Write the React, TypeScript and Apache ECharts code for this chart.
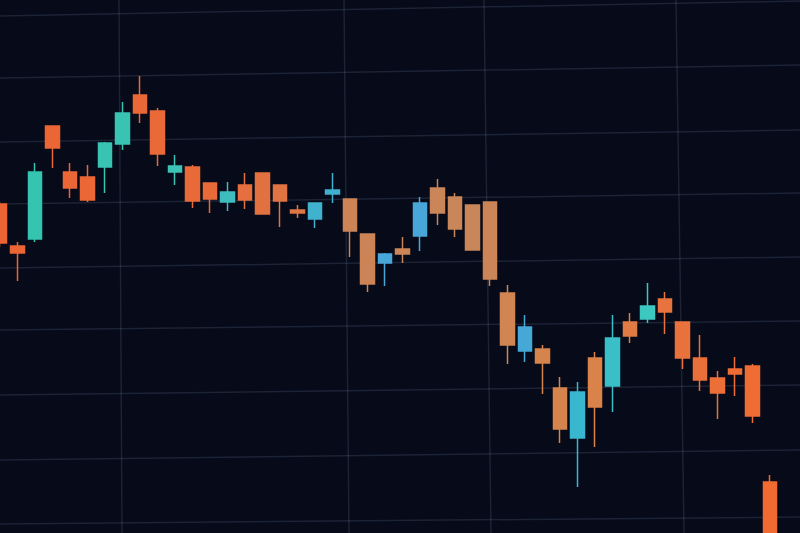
import React, { useEffect, useRef } from "react";
import * as echarts from "echarts";

// Candle labels (sessions)
const categories = [
  "S01","S02","S03","S04","S05","S06","S07","S08","S09","S10",
  "S11","S12","S13","S14","S15","S16","S17","S18","S19","S20",
  "S21","S22","S23","S24","S25","S26","S27","S28","S29","S30",
  "S31","S32","S33","S34","S35","S36","S37","S38","S39","S40",
  "S41","S42","S43","S44","S45",
];

// OHLC values (arbitrary price units)
const opens = [
  329, 287, 294, 407, 361, 356, 366, 389, 438, 422,
  361, 366, 350, 331, 348, 360, 348, 323, 314, 339,
  334, 299, 270, 284, 297, 345, 336, 328, 331, 240,
  182, 184, 145, 95, 175, 147, 211, 214, 234, 211,
  175, 155, 164, 167, 51,
];
const closes = [
  290, 280, 361, 385, 345, 333, 390, 420, 420, 379,
  367, 332, 334, 341, 333, 319, 332, 320, 330, 343,
  302, 249, 279, 279, 330, 320, 304, 283, 254, 188,
  206, 170, 104, 141, 126, 195, 197, 227, 221, 175,
  153, 140, 159, 117, -20,
];
const lows = [
  286, 252, 291, 365, 335, 331, 340, 383, 410, 367,
  348, 325, 320, 322, 324, 319, 306, 315, 305, 330,
  276, 241, 247, 270, 282, 308, 296, 283, 247, 169,
  171, 139, 90, 46, 86, 121, 190, 210, 199, 164,
  142, 114, 137, 110, -30,
];
const highs = [
  331, 291, 370, 407, 370, 368, 391, 431, 457, 425,
  378, 368, 350, 351, 360, 360, 348, 328, 330, 360,
  334, 299, 280, 296, 336, 354, 340, 328, 331, 248,
  218, 188, 156, 151, 181, 218, 220, 250, 241, 211,
  198, 162, 176, 169, 58,
];

// Colour stops (photo colour shift along the screen)
const upStops: [number, string][] = [
  [0, "#33c4ad"], [10, "#3cc3b6"], [18, "#40b2cf"], [22, "#49a6d8"],
  [30, "#46a8d6"], [33, "#38b7cf"], [37, "#3cc7c0"], [44, "#3cc7c0"],
];
const downStops: [number, string][] = [
  [0, "#ec6434"], [12, "#e96a39"], [17, "#de7645"], [20, "#cc8457"],
  [27, "#c98659"], [30, "#d3844f"], [34, "#d9834a"], [38, "#e7733e"],
  [44, "#f06a32"],
];

function hexToRgb(h: string) {
  const n = parseInt(h.slice(1), 16);
  return [(n >> 16) & 255, (n >> 8) & 255, n & 255];
}
function colorAt(stops: [number, string][], i: number) {
  for (let k = 0; k < stops.length - 1; k++) {
    const [i0, c0] = stops[k];
    const [i1, c1] = stops[k + 1];
    if (i >= i0 && i <= i1) {
      const t = i1 === i0 ? 0 : (i - i0) / (i1 - i0);
      const a = hexToRgb(c0);
      const b = hexToRgb(c1);
      const m = a.map((v, j) => Math.round(v + (b[j] - v) * t));
      return `rgb(${m[0]},${m[1]},${m[2]})`;
    }
  }
  return stops[stops.length - 1][1];
}

// Perspective-tilted screen grid lines (decoration), page coordinates
const hLines = [
  [0, 16, 800, 1], [0, 78, 800, 65], [0, 142, 800, 130], [0, 204, 800, 193],
  [0, 268, 800, 257], [0, 330, 800, 321], [0, 395, 800, 385], [0, 460, 800, 450],
  [0, 524, 800, 517],
];
const vLines = [
  [119, 0, 122, 533], [344, 0, 349, 533], [484, 0, 491, 533], [676, 0, 684, 533],
];

const SHIFT = 9; // chart div starts 9px left of the page

export default function App() {
  const ref = useRef<HTMLDivElement>(null);
  useEffect(() => {
    document.body.style.margin = "0";
    document.body.style.background = "#060a19";
    document.body.style.overflow = "hidden";
    const chart = echarts.init(ref.current!, undefined, { renderer: "svg" });
    const data = categories.map((_, i) => {
      const isUp = closes[i] >= opens[i];
      const c = isUp ? colorAt(upStops, i) : colorAt(downStops, i);
      return {
        value: [opens[i], closes[i], lows[i], highs[i]],
        itemStyle: {
          color: c,
          color0: c,
          borderColor: c,
          borderColor0: c,
          borderWidth: 1.5,
        },
      };
    });
    const gridStyle = { stroke: "rgba(130,150,185,0.18)", lineWidth: 1.5 };
    const mkLine = (l: number[]) => ({
      type: "line",
      z: 0,
      silent: true,
      shape: { x1: l[0] + SHIFT, y1: l[1], x2: l[2] + SHIFT, y2: l[3] },
      style: gridStyle,
    });
    chart.setOption({
      animation: false,
      backgroundColor: "#060a19",
      grid: { left: 0, right: 21, top: 0, bottom: 0, containLabel: false },
      xAxis: {
        type: "category",
        data: categories,
        boundaryGap: true,
        show: false,
      },
      yAxis: {
        type: "value",
        min: 0,
        max: 533,
        show: false,
        splitLine: { show: false },
      },
      graphic: [...hLines.map(mkLine), ...vLines.map(mkLine)],
      series: [
        {
          type: "candlestick",
          z: 5,
          barWidth: 14,
          clip: true,
          data,
        },
      ],
    });
    return () => chart.dispose();
  }, []);
  return (
    <div
      ref={ref}
      style={{ position: "fixed", left: -SHIFT, top: 0, width: 800 + SHIFT, height: 533 }}
    />
  );
}
